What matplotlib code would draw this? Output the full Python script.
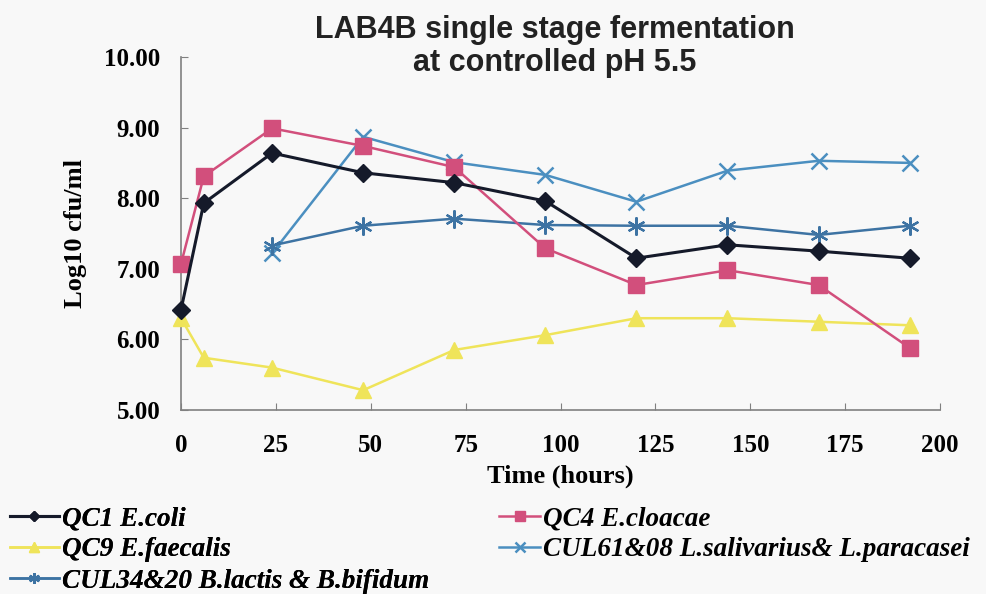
import matplotlib.pyplot as plt
from matplotlib.lines import Line2D

# sampling times (hours)
hours = [0, 6, 24, 48, 72, 96, 120, 144, 168, 192]
hours_cul = [24, 48, 72, 96, 120, 144, 168, 192]

# log10 cfu/ml
ecoli = [6.42, 7.93, 8.64, 8.36, 8.22, 7.96, 7.15, 7.34, 7.25, 7.15]
ecloacae = [7.07, 8.31, 8.99, 8.74, 8.44, 7.29, 6.77, 6.98, 6.77, 5.88]
efaecalis = [6.30, 5.74, 5.60, 5.28, 5.85, 6.06, 6.30, 6.30, 6.25, 6.20]
cul61 = [7.22, 8.87, 8.51, 8.33, 7.95, 8.39, 8.53, 8.50]
cul34 = [7.33, 7.61, 7.71, 7.62, 7.61, 7.61, 7.48, 7.61]

labels = ["QC1 E.coli", "QC4 E.cloacae", "QC9 E.faecalis",
          "CUL61&08 L.salivarius& L.paracasei", "CUL34&20 B.lactis & B.bifidum"]

serif = "Liberation Serif"
bg = "#f8f8f8"

fig = plt.figure(figsize=(9.87, 5.94), dpi=100, facecolor=bg)
ax = fig.add_axes([0.1834, 0.3098, 0.7690, 0.5942], facecolor=bg)

styles = [
    dict(color="#151a2a", marker="D", markersize=9, lw=2.2),
    dict(color="#d24f7c", marker="s", markersize=12, lw=1.8),
    dict(color="#efe45a", marker="^", markersize=12, lw=1.8),
    dict(color="#4b8fc0", marker="x", markersize=11, mew=1.8, lw=1.8),
    dict(color="#3d73a3", marker=(6, 2, 0), markersize=13, mew=1.6, lw=1.8),
]

ax.plot(hours, ecoli, clip_on=False, zorder=5, **styles[0])
ax.plot(hours, ecloacae, clip_on=False, zorder=4, **styles[1])
ax.plot(hours, efaecalis, clip_on=False, zorder=3, **styles[2])
ax.plot(hours_cul, cul61, clip_on=False, zorder=3, **styles[3])
ax.plot(hours_cul, cul34, clip_on=False, zorder=3, **styles[4])

ax.set_xlim(0, 200)
ax.set_ylim(5, 10)
ax.set_xticks(range(0, 201, 25))
ax.set_yticks(range(5, 11))
ax.set_yticklabels([f"{v:.2f}" for v in range(5, 11)])
for s in ["top", "right"]:
    ax.spines[s].set_visible(False)
for s in ["left", "bottom"]:
    ax.spines[s].set_color("#808080")
    ax.spines[s].set_linewidth(1.2)
ax.tick_params(direction="in", length=5, color="#808080", pad=15)
ax.tick_params(axis="x", pad=17)
for lab in ax.get_xticklabels() + ax.get_yticklabels():
    lab.set_fontfamily(serif)
    lab.set_fontweight("bold")
    lab.set_fontsize(18)

ax.set_xlabel("Time (hours)", fontfamily=serif, fontweight="bold", fontsize=19, labelpad=6)
ax.set_ylabel("Log10 cfu/ml", fontfamily=serif, fontweight="bold", fontsize=19, labelpad=12)

fig.text(0.5625, 0.975, "LAB4B single stage fermentation\nat controlled pH 5.5",
         ha="center", va="top", fontsize=22, fontweight="bold", color="#222222",
         fontfamily="Liberation Sans", linespacing=1.12)

handles = []
for st in styles:
    handles.append(Line2D([], [], **st))

leg_font = dict(family=serif, style="italic", weight="bold", size=19.5)
leg1 = fig.legend([handles[0], handles[2], handles[4]], [labels[0], labels[2], labels[4]],
                  loc="upper left", bbox_to_anchor=(0.01, 0.148), frameon=False,
                  prop=leg_font, handlelength=1.8, handletextpad=0.12,
                  labelspacing=0.23, borderaxespad=0, borderpad=0, markerscale=0.6)
leg2 = fig.legend([handles[1], handles[3]], [labels[1], labels[3]],
                  loc="upper left", bbox_to_anchor=(0.506, 0.148), frameon=False,
                  prop=leg_font, handlelength=1.5, handletextpad=0.12,
                  labelspacing=0.23, borderaxespad=0, borderpad=0, markerscale=0.6)
fig.add_artist(leg1)

fig.savefig("out.png", dpi=100, facecolor=bg)
